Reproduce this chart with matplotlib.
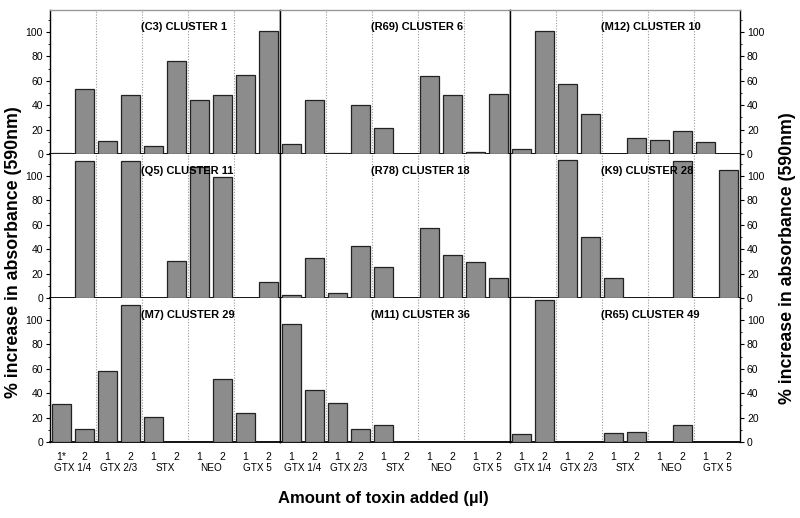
import matplotlib
matplotlib.use("Agg")
import matplotlib.pyplot as plt
from matplotlib.ticker import MultipleLocator
import numpy as np

plt.rcParams['font.family'] = ['Liberation Sans', 'DejaVu Sans']

dose_labels = ["1", "2", "1", "2", "1", "2", "1", "2", "1", "2"]
toxins = ["GTX 1/4", "GTX 2/3", "STX", "NEO", "GTX 5"]

titles = ["(C3) CLUSTER 1", "(R69) CLUSTER 6", "(M12) CLUSTER 10",
          "(Q5) CLUSTER 11", "(R78) CLUSTER 18", "(K9) CLUSTER 28",
          "(M7) CLUSTER 29", "(M11) CLUSTER 36", "(R65) CLUSTER 49"]

c1 = [1, 53.5, 11, 48.5, 6.5, 76, 44.5, 48, 64.5, 101]
c6 = [8, 44.5, 0.5, 40, 21, 0, 64, 48, 2, 49]
c10 = [4, 101, 57, 33, 0, 13, 11.5, 18.5, 10, 0]
c11 = [0, 112, 0, 112, 0, 30, 107, 99, 0, 13]
c18 = [2.5, 32.5, 4.5, 43, 25.5, 0, 57.5, 35.5, 29.5, 16]
c28 = [1, 0, 113, 50, 16, 0, 0, 112.5, 0, 105]
c29 = [31, 11, 58.5, 112, 20.5, 0, 0, 51.5, 24, 0]
c36 = [97, 42.5, 32, 11, 14, 0, 0, 0, 0, 0]
c49 = [6.5, 116, 0, 0, 7, 8, 0, 14, 0, 0]

series = [c1, c6, c10, c11, c18, c28, c29, c36, c49]

fig = plt.figure(figsize=(8, 5.18), dpi=100)
left, right = 50 / 800, 740 / 800
top, bottom = 1 - 10 / 518, 1 - 442 / 518
gs = fig.add_gridspec(3, 3, left=left, right=right, top=top, bottom=bottom,
                      hspace=0, wspace=0)

x = np.arange(10)
for idx in range(9):
    r, c = divmod(idx, 3)
    ax = fig.add_subplot(gs[r, c])
    vals = np.array(series[idx], dtype=float)
    mask = vals > 0
    ax.bar(x[mask], vals[mask], width=0.8, color="#8c8c8c",
           edgecolor="#222222", linewidth=0.9, zorder=3)
    ax.set_xlim(-0.5, 9.5)
    ax.set_ylim(0, 118)
    for b in [1.5, 3.5, 5.5, 7.5]:
        ax.axvline(b, color="#999999", linestyle=(0, (1, 1.5)), linewidth=0.8, zorder=1)
    ax.text(3.45, 0.88, titles[idx], transform=ax.get_xaxis_transform(),
            fontsize=8, fontweight="bold", ha="left", va="center", zorder=5)
    for s in ["left", "right"]:
        ax.spines[s].set_color("black")
        ax.spines[s].set_linewidth(1.0)
    ax.spines["bottom"].set_color("black")
    ax.spines["bottom"].set_linewidth(1.3)
    ax.spines["top"].set_color("#999999" if r == 0 else "none")
    ax.spines["top"].set_linewidth(1.0)
    ax.yaxis.set_major_locator(MultipleLocator(20))
    ax.yaxis.set_minor_locator(MultipleLocator(10))
    ax.set_yticks(np.arange(0, 101, 20))
    if c == 0:
        ax.tick_params(axis="y", which="both", left=True, right=False,
                       labelleft=True, labelright=False, direction="out",
                       labelsize=7.5, pad=2)
        ax.tick_params(axis="y", which="major", length=3)
        ax.tick_params(axis="y", which="minor", length=1.5)
    elif c == 2:
        ax.tick_params(axis="y", which="both", left=False, right=True,
                       labelleft=False, labelright=True, direction="out",
                       labelsize=7.5, pad=2)
        ax.tick_params(axis="y", which="major", length=3)
        ax.tick_params(axis="y", which="minor", length=1.5)
    else:
        ax.tick_params(axis="y", which="both", left=False, right=False,
                       labelleft=False, labelright=False)
    if r == 2:
        ax.set_xticks(x)
        labs = list(dose_labels)
        if c == 0:
            labs[0] = "1*"
        ax.set_xticklabels(labs, fontsize=7.5)
        ax.tick_params(axis="x", length=0, pad=7)
        for g, name in enumerate(toxins):
            ax.text(2 * g + 0.5, -0.18, name, transform=ax.get_xaxis_transform(),
                    ha="center", va="center", fontsize=7.2)
    else:
        ax.set_xticks([])

fig.text(0.017, 1 - 252 / 518, "% increase in absorbance (590nm)",
         rotation=90, ha="center", va="center", fontsize=12.8, fontweight="bold")
fig.text(0.984, 1 - 258 / 518, "% increase in absorbance (590nm)",
         rotation=90, ha="center", va="center", fontsize=12.8, fontweight="bold")
fig.text(383 / 800, 1 - 498 / 518, "Amount of toxin added (\u00b5l)",
         ha="center", va="center", fontsize=12, fontweight="bold")

fig.savefig("out.png", dpi=100)
